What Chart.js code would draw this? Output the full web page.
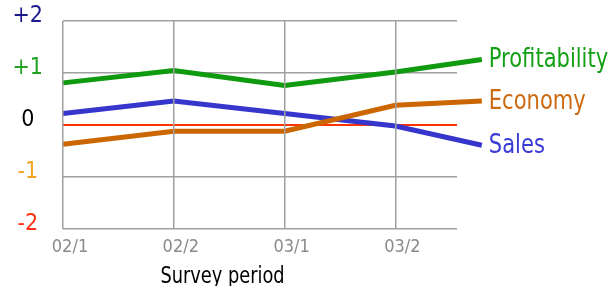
<!DOCTYPE html>
<html>
<head>
<meta charset="utf-8">
<script src="https://cdn.jsdelivr.net/npm/chart.js@4.4.0/dist/chart.umd.min.js"></script>
<style>
html,body{margin:0;padding:0;background:#fff;}
#wrap{width:616px;height:286px;position:relative;}
</style>
</head>
<body>
<div id="wrap"><canvas id="c"></canvas></div>
<script>
// ---- data ----
const periods = ['02/1', '02/2', '03/1', '03/2'];
const surveyIndex = [0, 1, 2, 3, 3.78];
const seriesNames = ['Profitability', 'Economy', 'Sales'];
const profitability = [0.81, 1.05, 0.76, 1.02, 1.26];
const economy = [-0.37, -0.12, -0.12, 0.38, 0.46];
const sales = [0.22, 0.46, 0.22, -0.02, -0.39];
const yTickValues = [-2, -1, 0, 1, 2];
const yTickLabels = ['-2', '-1', '0', '+1', '+2'];
const axisTitle = 'Survey period';

// ---- styles ----
const lineColors = ['#0f9a0f', '#cc6600', '#3636cc'];
const labelColors = ['#14a014', '#cc6a10', '#3a3ad6'];
const yTickColors = ['#ff3311', '#f4a41c', '#000000', '#22a022', '#1a1a8c'];
const FONT = '"DejaVu Sans Condensed", "DejaVu Sans", sans-serif';

function toXY(vals) { return vals.map((v, i) => ({ x: surveyIndex[i], y: v })); }

const seriesData = [profitability, economy, sales];

const endLabels = {
  id: 'endLabels',
  afterDatasetsDraw(chart) {
    const ctx = chart.ctx;
    ctx.save();
    ctx.font = '26px ' + FONT;
    ctx.textBaseline = 'middle';
    ctx.textAlign = 'left';
    chart.data.datasets.forEach((ds, i) => {
      const meta = chart.getDatasetMeta(i);
      const pt = meta.data[meta.data.length - 1];
      ctx.save();
      ctx.translate(pt.x + 7, pt.y + 1);
      ctx.scale(0.9, 1);
      ctx.fillStyle = labelColors[i];
      ctx.fillText(ds.label, 0, 0);
      ctx.restore();
    });
    ctx.restore();
  },
  afterDraw(chart) {
    const ctx = chart.ctx;
    const xs = chart.scales.x;
    ctx.save();
    ctx.font = '23px ' + FONT;
    ctx.textBaseline = 'alphabetic';
    ctx.textAlign = 'center';
    ctx.fillStyle = '#000';
    ctx.translate(xs.getPixelForValue(1.44), chart.height - 3);
    ctx.scale(0.86, 1);
    ctx.fillText(axisTitle, 0, 0);
    ctx.restore();
  }
};

new Chart(document.getElementById('c'), {
  type: 'line',
  data: {
    datasets: seriesNames.map((name, i) => ({
      label: name,
      data: toXY(seriesData[i]),
      borderColor: lineColors[i],
      backgroundColor: lineColors[i],
      borderWidth: 5,
      pointRadius: 0,
      tension: 0,
      clip: false,
      borderCapStyle: 'butt',
      borderJoinStyle: 'miter'
    }))
  },
  options: {
    responsive: true,
    maintainAspectRatio: false,
    animation: false,
    events: [],
    layout: { padding: { top: 21, right: 159, left: 0, bottom: 0 } },
    plugins: { legend: { display: false }, tooltip: { enabled: false } },
    scales: {
      x: {
        type: 'linear',
        min: 0,
        max: 3.556,
        afterFit(s) { s.height = 57; s.paddingLeft = 0; s.paddingRight = 0; },
        afterBuildTicks(s) { s.ticks = periods.map((p, i) => ({ value: i })); },
        ticks: {
          callback: (v) => periods[v],
          color: '#8a8a8a',
          font: { family: FONT, size: 18 },
          padding: 8,
          labelOffset: 7,
          maxRotation: 0,
          autoSkip: false
        },
        grid: { color: '#a0a0a0', lineWidth: 1.5, drawTicks: false, z: 1 },
        border: { display: false }
      },
      y: {
        min: -2,
        max: 2,
        afterFit(s) { s.width = 63; s.paddingTop = 0; s.paddingBottom = 0; },
        afterBuildTicks(s) { s.ticks = yTickValues.map(v => ({ value: v })); },
        ticks: {
          callback: (v) => yTickLabels[yTickValues.indexOf(v)],
          color: (c) => yTickColors[yTickValues.indexOf(c.tick.value)],
          font: { family: FONT, size: 23 },
          padding: 20,
          crossAlign: 'center',
          labelOffset: -5
        },
        grid: {
          color: (c) => c.tick && c.tick.value === 0 ? '#ff3300' : '#a0a0a0',
          lineWidth: (c) => c.tick && c.tick.value === 0 ? 2 : 1.5,
          drawTicks: false
        },
        border: { display: false }
      }
    }
  },
  plugins: [endLabels]
});
</script>
</body>
</html>
